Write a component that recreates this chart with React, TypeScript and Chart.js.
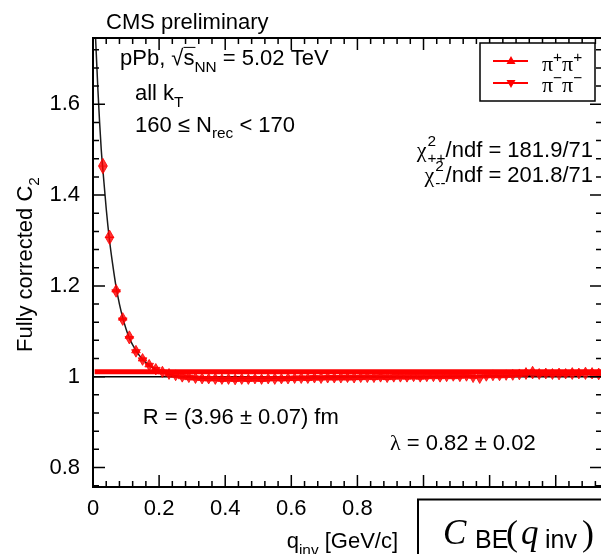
import React, { useEffect, useRef } from 'react';
import { Chart, registerables } from 'chart.js';

Chart.register(...registerables);

// ---------- data ----------
const qBins = [
  0.03, 0.05, 0.07, 0.09, 0.11, 0.13, 0.15, 0.17, 0.19, 0.21,
  0.23, 0.25, 0.27, 0.29, 0.31, 0.33, 0.35, 0.37, 0.39, 0.41,
  0.43, 0.45, 0.47, 0.49, 0.51, 0.53, 0.55, 0.57, 0.59, 0.61,
  0.63, 0.65, 0.67, 0.69, 0.71, 0.73, 0.75, 0.77, 0.79, 0.81,
  0.83, 0.85, 0.87, 0.89, 0.91, 0.93, 0.95, 0.97, 0.99, 1.01,
  1.03, 1.05, 1.07, 1.09, 1.11, 1.13, 1.15, 1.17, 1.19, 1.21,
  1.23, 1.25, 1.27, 1.29, 1.31, 1.33, 1.35, 1.37, 1.39, 1.41,
  1.43, 1.45, 1.47, 1.49, 1.51, 1.53,
];
const c2PiPlus = [
  1.470, 1.312, 1.192, 1.130, 1.090, 1.058, 1.040, 1.027, 1.018, 1.012,
  1.007, 1.004, 1.001, 0.999, 0.998, 0.997, 0.996, 0.997, 0.995, 0.996,
  0.995, 0.996, 0.995, 0.996, 0.995, 0.996, 0.997, 0.996, 0.997, 0.997,
  0.998, 0.997, 0.998, 0.998, 0.999, 0.998, 0.999, 0.998, 0.999, 0.999,
  1.000, 0.999, 1.000, 0.999, 1.000, 1.001, 1.000, 1.001, 1.000, 1.001,
  1.002, 1.001, 1.002, 1.001, 1.002, 1.003, 1.002, 1.003, 1.003, 1.004,
  1.003, 1.004, 1.005, 1.006, 1.009, 1.012, 1.007, 1.008, 1.007, 1.008,
  1.007, 1.009, 1.008, 1.010, 1.009, 1.008,
];
const c2PiMinus = [
  1.458, 1.302, 1.186, 1.124, 1.083, 1.054, 1.036, 1.024, 1.015, 1.009,
  1.005, 1.002, 0.999, 0.998, 0.996, 0.995, 0.995, 0.994, 0.994, 0.994,
  0.993, 0.994, 0.994, 0.995, 0.994, 0.995, 0.994, 0.995, 0.995, 0.996,
  0.996, 0.996, 0.997, 0.996, 0.997, 0.997, 0.997, 0.998, 0.997, 0.998,
  0.998, 0.998, 0.999, 0.998, 0.999, 0.999, 0.999, 1.000, 0.999, 1.000,
  1.000, 0.999, 1.000, 1.001, 1.000, 1.001, 0.998, 0.996, 1.001, 1.002,
  1.002, 1.003, 1.003, 1.004, 1.005, 1.006, 1.005, 1.006, 1.005, 1.004,
  1.006, 1.005, 1.006, 1.005, 1.006, 1.004,
];
const fitQ = [
  0.005, 0.01, 0.015, 0.02, 0.025, 0.03, 0.04, 0.05, 0.06, 0.07,
  0.08, 0.09, 0.10, 0.11, 0.12, 0.14, 0.16, 0.18, 0.20, 0.22,
  0.25, 0.28, 0.32, 0.40, 0.60, 0.80, 1.00, 1.20, 1.40, 1.54,
];
const fitC2 = [
  1.79, 1.71, 1.63, 1.56, 1.50, 1.455, 1.37, 1.30, 1.245, 1.197,
  1.16, 1.13, 1.105, 1.085, 1.07, 1.047, 1.031, 1.02, 1.012, 1.007,
  1.002, 0.999, 0.997, 0.996, 0.997, 0.998, 1.0, 1.002, 1.004, 1.005,
];
const unityQ = [0, 1.54];
const unityC2 = [1, 1];
const bandQ = [0.005, 1.54];
const bandC2 = [1.011, 1.011];
const xTickValues = [0, 0.2, 0.4, 0.6, 0.8, 1, 1.2, 1.4];
const yTickValues = [0.8, 1, 1.2, 1.4, 1.6];
const X_MIN = 0;
const X_MAX = 1.54;
const Y_MIN = 0.757;
const Y_MAX = 1.746;

// ---------- text helpers ----------
const SANS = '"Liberation Sans", Arial, Helvetica, sans-serif';
const SERIF = '"Liberation Serif", "Times New Roman", serif';

type Seg = { t?: string; fam?: string; it?: boolean; pos?: 'sub' | 'sup'; sup?: string; sub?: string; over?: boolean };

function fnt(size: number, fam: string, it?: boolean) {
  return `${it ? 'italic ' : ''}${size}px ${fam}`;
}

function segW(ctx: CanvasRenderingContext2D, s: Seg, size: number) {
  const small = size * 0.7;
  if (s.sup !== undefined || s.sub !== undefined) {
    ctx.font = fnt(small, s.fam || SANS, s.it);
    return Math.max(ctx.measureText(s.sup || '').width, ctx.measureText(s.sub || '').width) + 1;
  }
  ctx.font = fnt(s.pos ? small : size, s.fam || SANS, s.it);
  return ctx.measureText(s.t || '').width;
}

function drawRich(
  ctx: CanvasRenderingContext2D,
  segs: Seg[],
  x: number,
  base: number,
  size: number,
  align: 'left' | 'right' | 'center',
) {
  const ws = segs.map((s) => segW(ctx, s, size));
  const total = ws.reduce((a, b) => a + b, 0);
  let cx = align === 'right' ? x - total : align === 'center' ? x - total / 2 : x;
  ctx.textAlign = 'left';
  ctx.textBaseline = 'alphabetic';
  ctx.fillStyle = '#000';
  segs.forEach((s, i) => {
    const small = size * 0.7;
    if (s.sup !== undefined || s.sub !== undefined) {
      ctx.font = fnt(small, s.fam || SANS, s.it);
      if (s.sup) ctx.fillText(s.sup, cx + 1, base - size * 0.48);
      if (s.sub) ctx.fillText(s.sub, cx + 1, base + size * 0.3);
    } else {
      ctx.font = fnt(s.pos ? small : size, s.fam || SANS, s.it);
      const dy = s.pos === 'sub' ? size * 0.3 : s.pos === 'sup' ? -size * 0.42 : 0;
      ctx.fillText(s.t || '', cx, base + dy);
      if (s.over) {
        ctx.strokeStyle = '#000';
        ctx.lineWidth = 1;
        ctx.beginPath();
        ctx.moveTo(cx, base - size * 0.8);
        ctx.lineTo(cx + ws[i] + 1, base - size * 0.8);
        ctx.stroke();
      }
    }
    cx += ws[i];
  });
}

function triangle(ctx: CanvasRenderingContext2D, x: number, y: number, r: number, down: boolean) {
  ctx.beginPath();
  if (!down) {
    ctx.moveTo(x, y - r);
    ctx.lineTo(x + r * 0.9, y + r * 0.6);
    ctx.lineTo(x - r * 0.9, y + r * 0.6);
  } else {
    ctx.moveTo(x, y + r);
    ctx.lineTo(x + r * 0.9, y - r * 0.6);
    ctx.lineTo(x - r * 0.9, y - r * 0.6);
  }
  ctx.closePath();
  ctx.fill();
}

const decorPlugin = {
  id: 'decor',
  afterDraw(chart: any) {
    const ctx: CanvasRenderingContext2D = chart.ctx;
    const xs = chart.scales.x;
    const ys = chart.scales.y;
    const a = chart.chartArea;
    ctx.save();

    // frame
    ctx.strokeStyle = '#000';
    ctx.lineWidth = 2;
    ctx.strokeRect(a.left, a.top, a.right - a.left, a.bottom - a.top);

    // ticks
    ctx.lineWidth = 1.5;
    const MAJ = 12;
    const MIN = 6;
    for (let i = 0; i * 0.04 <= X_MAX + 1e-9; i++) {
      const v = i * 0.04;
      const major = i % 5 === 0;
      const len = major ? MAJ : MIN;
      const px = xs.getPixelForValue(v);
      ctx.beginPath();
      ctx.moveTo(px, a.bottom);
      ctx.lineTo(px, a.bottom - len);
      ctx.moveTo(px, a.top);
      ctx.lineTo(px, a.top + len);
      ctx.stroke();
    }
    for (let i = 19; i * 0.04 <= Y_MAX + 1e-9; i++) {
      const v = i * 0.04;
      const major = i % 5 === 0;
      const len = major ? MAJ : MIN;
      const py = ys.getPixelForValue(v);
      ctx.beginPath();
      ctx.moveTo(a.left, py);
      ctx.lineTo(a.left + len, py);
      ctx.moveTo(a.right, py);
      ctx.lineTo(a.right - len, py);
      ctx.stroke();
    }

    // legend box
    ctx.fillStyle = '#fff';
    ctx.fillRect(480, 43, 115, 58);
    ctx.strokeStyle = '#000';
    ctx.lineWidth = 1.5;
    ctx.strokeRect(480, 43, 115, 58);
    ctx.strokeStyle = '#ff0000';
    ctx.fillStyle = '#ff0000';
    ctx.lineWidth = 2;
    ctx.beginPath();
    ctx.moveTo(493, 61);
    ctx.lineTo(528, 61);
    ctx.moveTo(493, 83);
    ctx.lineTo(528, 83);
    ctx.stroke();
    triangle(ctx, 511, 61, 5, false);
    triangle(ctx, 511, 83, 5, true);
    const S = 22;
    drawRich(ctx, [{ t: 'π', fam: SERIF }, { t: '+', pos: 'sup' }, { t: 'π', fam: SERIF }, { t: '+', pos: 'sup' }], 542, 71, S, 'left');
    drawRich(ctx, [{ t: 'π', fam: SERIF }, { t: '−', pos: 'sup' }, { t: 'π', fam: SERIF }, { t: '−', pos: 'sup' }], 542, 92, S, 'left');

    // annotations
    drawRich(ctx, [{ t: 'CMS preliminary' }], 106, 28.5, S, 'left');
    drawRich(ctx, [{ t: 'pPb, ' }, { t: '√' }, { t: 's', over: true }, { t: 'NN', pos: 'sub' }, { t: ' = 5.02 TeV' }], 120, 65, S, 'left');
    drawRich(ctx, [{ t: 'all k' }, { t: 'T', pos: 'sub' }], 135, 100, S, 'left');
    drawRich(ctx, [{ t: '160 ≤ N' }, { t: 'rec', pos: 'sub' }, { t: ' < 170' }], 135, 131.7, S, 'left');
    drawRich(ctx, [{ t: 'χ', fam: SERIF }, { sup: '2', sub: '++' }, { t: '/ndf = 181.9/71' }], 593, 156.7, S, 'right');
    drawRich(ctx, [{ t: 'χ', fam: SERIF }, { sup: '2', sub: '--' }, { t: '/ndf = 201.8/71' }], 593, 181.7, S, 'right');
    drawRich(ctx, [{ t: 'R = (3.96 ± 0.07) fm' }], 142.7, 424, S, 'left');
    drawRich(ctx, [{ t: 'λ', fam: SERIF }, { t: ' = 0.82 ± 0.02' }], 390, 450, S, 'left');
    drawRich(ctx, [{ t: 'q' }, { t: 'inv', pos: 'sub' }, { t: ' [GeV/c]' }], 286.7, 548, S, 'left');

    ctx.save();
    ctx.translate(32, 352);
    ctx.rotate(-Math.PI / 2);
    drawRich(ctx, [{ t: 'Fully corrected C' }, { t: '2', pos: 'sub' }], 0, 0, S, 'left');
    ctx.restore();

    // formula box
    ctx.fillStyle = '#fff';
    ctx.fillRect(418, 499.5, 220, 80);
    ctx.strokeStyle = '#000';
    ctx.lineWidth = 2;
    ctx.strokeRect(418, 499.5, 220, 80);
    ctx.fillStyle = '#000';
    ctx.textAlign = 'left';
    ctx.textBaseline = 'alphabetic';
    ctx.font = fnt(35, SERIF, true);
    ctx.fillText('C', 443, 544);
    ctx.font = fnt(25, SANS);
    ctx.fillText('BE', 475, 548);
    ctx.font = fnt(36, SERIF);
    ctx.fillText('(', 506, 545);
    ctx.font = fnt(35, SERIF, true);
    ctx.fillText('q', 521, 544);
    ctx.font = fnt(25, SANS);
    ctx.fillText('inv', 545, 548);
    ctx.font = fnt(36, SERIF);
    ctx.fillText(')', 582, 545);

    ctx.restore();
  },
};

function pts(xs: number[], ys: number[]) {
  return xs.map((x, i) => ({ x, y: ys[i] }));
}

const fmt = (v: any) => String(+Number(v).toFixed(1));

export default function App() {
  const ref = useRef<HTMLCanvasElement | null>(null);

  useEffect(() => {
    if (!ref.current) return;
    const chart = new Chart(ref.current, {
      type: 'scatter',
      data: {
        datasets: [
          {
            label: 'π+π+',
            data: pts(qBins, c2PiPlus),
            pointStyle: 'triangle',
            pointRadius: 5,
            backgroundColor: 'rgba(255,0,0,0.8)',
            borderColor: 'rgba(255,0,0,0.8)',
            borderWidth: 1,
            showLine: false,
          },
          {
            label: 'π−π−',
            data: pts(qBins, c2PiMinus),
            pointStyle: 'triangle',
            rotation: 180,
            pointRadius: 5,
            backgroundColor: 'rgba(255,0,0,0.8)',
            borderColor: 'rgba(255,0,0,0.8)',
            borderWidth: 1,
            showLine: false,
          },
          {
            label: 'band',
            data: pts(bandQ, bandC2),
            showLine: true,
            borderColor: '#ff0000',
            borderWidth: 5,
            pointRadius: 0,
          },
          {
            label: 'fit',
            data: pts(fitQ, fitC2),
            showLine: true,
            borderColor: '#1a1a1a',
            borderWidth: 1.5,
            pointRadius: 0,
            cubicInterpolationMode: 'monotone',
          },
          {
            label: 'unity',
            data: pts(unityQ, unityC2),
            showLine: true,
            borderColor: '#000',
            borderWidth: 1.5,
            pointRadius: 0,
          },
        ] as any,
      },
      options: {
        animation: false,
        responsive: false,
        devicePixelRatio: 1,
        events: [],
        layout: { padding: { left: 0, top: 38, right: 8, bottom: 0 } },
        plugins: { legend: { display: false }, tooltip: { enabled: false }, title: { display: false } },
        scales: {
          x: {
            type: 'linear',
            min: X_MIN,
            max: X_MAX,
            grid: { display: false, drawTicks: false },
            border: { display: false },
            afterBuildTicks: (s: any) => {
              s.ticks = xTickValues.map((v) => ({ value: v }));
            },
            afterFit: (s: any) => {
              s.height = 67;
            },
            ticks: {
              autoSkip: false,
              maxRotation: 0,
              padding: 9,
              color: '#000',
              font: { family: SANS, size: 22 },
              callback: fmt,
            },
          },
          y: {
            type: 'linear',
            min: Y_MIN,
            max: Y_MAX,
            grid: { display: false, drawTicks: false },
            border: { display: false },
            afterBuildTicks: (s: any) => {
              s.ticks = yTickValues.map((v) => ({ value: v }));
            },
            afterFit: (s: any) => {
              s.width = 93;
            },
            ticks: {
              autoSkip: false,
              padding: 13,
              color: '#000',
              font: { family: SANS, size: 22 },
              callback: fmt,
            },
          },
        },
      } as any,
      plugins: [decorPlugin],
    });
    return () => chart.destroy();
  }, []);

  return (
    <div style={{ position: 'fixed', left: 0, top: 0, width: 601, height: 554, overflow: 'hidden', background: '#fff' }}>
      <canvas ref={ref} width={610} height={554} style={{ display: 'block' }} />
    </div>
  );
}
